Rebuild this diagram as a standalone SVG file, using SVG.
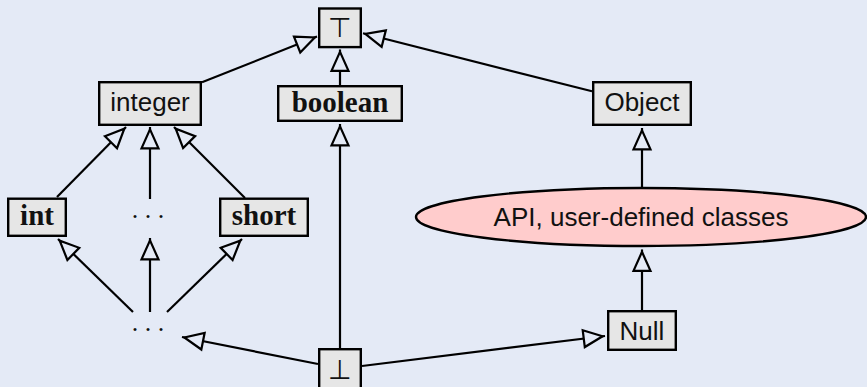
<svg xmlns="http://www.w3.org/2000/svg" width="867" height="387" viewBox="0 0 867 387">
<style>
.box{fill:#e6e6e6;stroke:#000;stroke-width:2.4}
.sans{font-family:"Liberation Sans",Arial,sans-serif;font-size:26px;fill:#111;text-anchor:middle}
.bold{font-family:"Liberation Serif","Times New Roman",serif;font-size:29px;font-weight:bold;fill:#111;text-anchor:middle}
.sym{font-family:"DejaVu Sans",sans-serif;font-size:27px;font-weight:200;fill:#111;text-anchor:middle}
.dots{font-family:"Liberation Serif",serif;font-size:26px;fill:#111;letter-spacing:6.5px}
.edge{stroke:#000;stroke-width:2.2;fill:none;marker-end:url(#tri)}
</style>
<defs>
<marker id="tri" markerUnits="userSpaceOnUse" viewBox="-24 -12 28 24" markerWidth="28" markerHeight="24" refX="2.4" refY="0" orient="auto" overflow="visible">
<path d="M-19,-8.5 L0,0 L-19,8.5 Z" fill="#e4eaf6" stroke="#000" stroke-width="2.2" stroke-linejoin="miter"/>
</marker>
</defs>
<rect width="867" height="387" fill="#e4eaf6"/>
<g id="edges">
<line class="edge" x1="202" y1="82.3" x2="317" y2="36.6"/>
<line class="edge" x1="340" y1="85" x2="340" y2="49.5"/>
<line class="edge" x1="592" y1="91.3" x2="363" y2="33.3"/>
<line class="edge" x1="57" y1="197" x2="126" y2="127"/>
<line class="edge" x1="150" y1="199" x2="150" y2="127"/>
<line class="edge" x1="245" y1="198" x2="174" y2="127"/>
<line class="edge" x1="133" y1="312" x2="58" y2="239"/>
<line class="edge" x1="150" y1="312" x2="150" y2="238"/>
<line class="edge" x1="167" y1="312" x2="242" y2="239"/>
<line class="edge" x1="318" y1="364" x2="182" y2="337"/>
<line class="edge" x1="340" y1="348" x2="340" y2="124"/>
<line class="edge" x1="362" y1="366" x2="605" y2="336"/>
<line class="edge" x1="642" y1="310" x2="642" y2="249.5"/>
<line class="edge" x1="642" y1="187" x2="642" y2="128"/>
</g>
<g id="top">
<rect class="box" x="319.2" y="8.5" width="41.6" height="38.6"/>
<text class="sym" x="340" y="37">⊤</text>
</g>
<g id="integer">
<rect class="box" x="99.2" y="82.2" width="101.6" height="42.6"/>
<text class="sans" x="150" y="111">integer</text>
</g>
<g id="boolean">
<rect class="box" x="278.2" y="86.2" width="123.6" height="34.6"/>
<text class="bold" x="340" y="112">boolean</text>
</g>
<g id="object">
<rect class="box" x="593.2" y="82.2" width="97.6" height="42.6"/>
<text class="sans" x="642" y="111">Object</text>
</g>
<g id="int">
<rect class="box" x="8.2" y="198.7" width="57.6" height="37.1"/>
<text class="bold" x="37" y="225">int</text>
</g>
<g id="middots">
<text class="dots" x="131.8" y="218">...</text>
</g>
<g id="short">
<rect class="box" x="220.2" y="198.7" width="87.6" height="37.1"/>
<text class="bold" x="264" y="225">short</text>
</g>
<g id="api">
<ellipse cx="641" cy="217" rx="225" ry="29" fill="#ffcccc" stroke="#000" stroke-width="2.4"/>
<text class="sans" x="641" y="226">API, user-defined classes</text>
</g>
<g id="botdots">
<text class="dots" x="131.8" y="331">...</text>
</g>
<g id="null">
<rect class="box" x="608.2" y="311.2" width="67.6" height="38.6"/>
<text class="sans" x="642" y="340">Null</text>
</g>
<g id="bottom">
<rect class="box" x="319.2" y="349.2" width="41.6" height="40"/>
<text class="sym" x="340" y="379">⊥</text>
</g>
</svg>
